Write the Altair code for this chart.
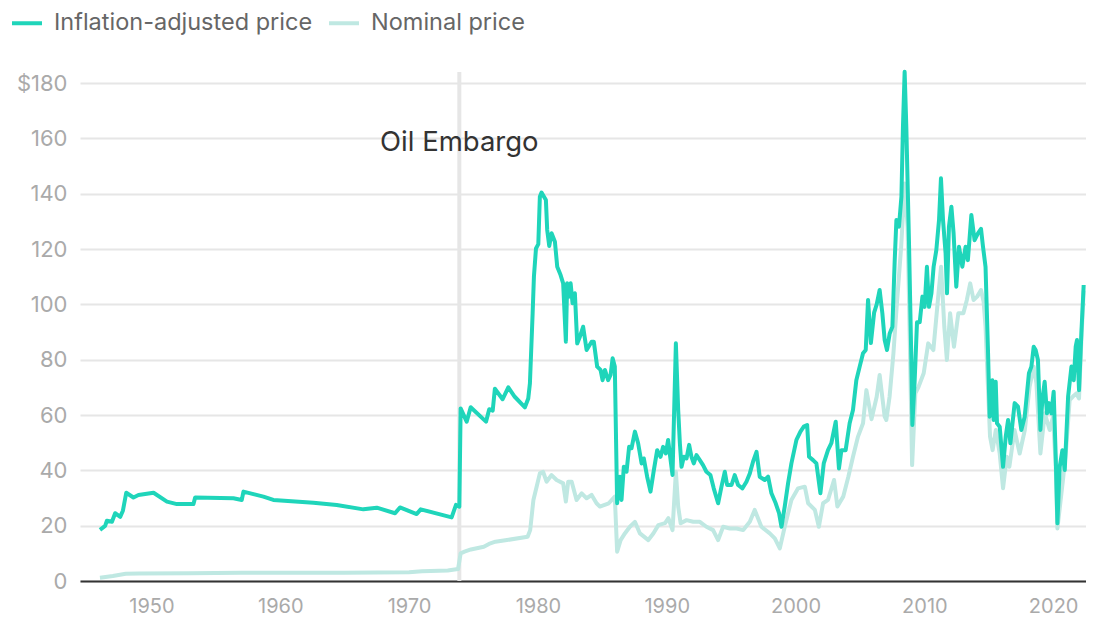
import altair as alt
import pandas as pd

# ---- data ----
adj_year = [1946.0, 1946.4, 1946.54, 1946.93, 1947.18, 1947.57, 1947.78, 1948.04, 1948.6, 1948.99,
            1950.16, 1951.2, 1951.97, 1953.26, 1953.39, 1956.36, 1957.01, 1957.14, 1958.69, 1959.46,
            1962.57, 1964.38, 1966.45, 1967.49, 1968.91, 1969.29, 1970.59, 1970.9, 1973.3, 1973.64,
            1973.9, 1974.0, 1974.47, 1974.78, 1975.97, 1976.22, 1976.49, 1976.66, 1977.26, 1977.7,
            1978.2, 1978.99, 1979.25, 1979.38, 1979.59, 1979.69, 1979.85, 1980.03, 1980.15, 1980.28,
            1980.62, 1980.72, 1980.88, 1981.06, 1981.32, 1981.5, 1981.76, 1981.96, 1982.17, 1982.27,
            1982.43, 1982.54, 1982.69, 1982.87, 1983.05, 1983.26, 1983.51, 1983.78, 1984.17, 1984.34,
            1984.6, 1984.86, 1985.02, 1985.2, 1985.45, 1985.64, 1985.8, 1985.97, 1986.15, 1986.36,
            1986.49, 1986.67, 1986.88, 1987.08, 1987.27, 1987.53, 1987.78, 1988.05, 1988.22, 1988.48,
            1988.74, 1989.0, 1989.26, 1989.52, 1989.72, 1989.93, 1990.11, 1990.3, 1990.45, 1990.71,
            1990.89, 1991.02, 1991.15, 1991.33, 1991.54, 1991.74, 1991.92, 1992.1, 1992.31, 1992.57,
            1992.82, 1993.08, 1993.39, 1993.65, 1993.99, 1994.25, 1994.51, 1994.69, 1995.03, 1995.28,
            1995.54, 1995.88, 1996.19, 1996.45, 1996.7, 1996.97, 1997.22, 1997.61, 1997.87, 1998.13,
            1998.46, 1998.72, 1998.91, 1999.16, 1999.42, 1999.68, 2000.07, 2000.38, 2000.64, 2000.9,
            2001.05, 2001.36, 2001.62, 2001.93, 2002.19, 2002.52, 2002.78, 2003.12, 2003.37, 2003.56,
            2003.89, 2004.2, 2004.46, 2004.72, 2004.98, 2005.24, 2005.45, 2005.63, 2005.85, 2006.1,
            2006.3, 2006.53, 2006.74, 2006.92, 2007.1, 2007.31, 2007.52, 2007.7, 2007.83, 2008.03,
            2008.22, 2008.34, 2008.47, 2008.6, 2008.81, 2008.99, 2009.07, 2009.25, 2009.43, 2009.64,
            2009.85, 2010.02, 2010.2, 2010.36, 2010.55, 2010.72, 2010.93, 2011.14, 2011.29, 2011.45,
            2011.65, 2011.76, 2011.91, 2012.1, 2012.27, 2012.48, 2012.69, 2012.95, 2013.2, 2013.38,
            2013.65, 2013.9, 2014.16, 2014.4, 2014.55, 2014.75, 2014.94, 2015.07, 2015.28, 2015.38,
            2015.54, 2015.64, 2015.85, 2016.11, 2016.32, 2016.5, 2016.68, 2017.01, 2017.27, 2017.53,
            2017.79, 2018.12, 2018.31, 2018.49, 2018.64, 2018.82, 2019.01, 2019.16, 2019.34, 2019.52,
            2019.68, 2019.86, 2020.04, 2020.2, 2020.33, 2020.51, 2020.72, 2020.9, 2021.16, 2021.42,
            2021.6, 2021.75, 2021.85, 2022.01, 2022.19, 2022.37]
adj_price = [18.5, 19.9, 21.8, 21.4, 24.5, 23.2, 25.4, 31.9, 30.2, 31.1,
             31.9, 28.7, 27.8, 27.8, 30.2, 29.9, 29.3, 32.3, 30.5, 29.3,
             28.3, 27.5, 25.9, 26.5, 24.5, 26.6, 24.2, 25.9, 23.0, 27.5,
             26.9, 62.4, 57.6, 62.8, 57.6, 62.1, 61.6, 69.5, 65.7, 70.0,
             66.6, 62.8, 66.0, 71.5, 96.8, 110.0, 120.2, 121.8, 138.9, 140.4,
             137.7, 126.9, 121.1, 125.7, 122.6, 113.6, 110.6, 107.6, 86.5, 107.6,
             102.8, 107.6, 100.4, 104.0, 85.9, 88.3, 91.9, 83.5, 86.5, 86.5,
             77.5, 76.3, 72.6, 76.3, 72.6, 74.5, 80.5, 77.5, 28.1, 37.7,
             29.3, 41.3, 39.5, 48.5, 48.0, 54.0, 49.8, 42.5, 44.3, 37.7,
             32.3, 40.1, 47.3, 44.9, 48.5, 46.1, 51.0, 43.7, 38.3, 85.9,
             61.8, 49.8, 41.3, 44.9, 44.3, 49.2, 44.9, 42.5, 45.5, 43.7,
             41.9, 39.5, 38.3, 33.5, 28.1, 34.1, 39.5, 34.7, 34.7, 38.3,
             34.7, 33.5, 35.9, 38.9, 43.1, 46.7, 37.7, 36.5, 37.7, 31.7,
             28.1, 24.5, 19.6, 26.9, 35.3, 42.5, 51.0, 54.0, 55.8, 56.4,
             44.9, 43.7, 42.5, 31.7, 42.5, 47.3, 49.8, 57.6, 40.7, 47.3,
             47.3, 57.0, 61.8, 72.6, 77.5, 82.3, 83.5, 101.6, 86.0, 97.0,
             100.0, 105.2, 96.8, 87.1, 83.5, 89.5, 91.9, 116.0, 130.5, 128.1,
             138.9, 164.2, 184.1, 164.2, 122.0, 79.9, 56.4, 72.6, 93.5, 93.5,
             102.8, 99.1, 113.6, 99.1, 104.0, 113.6, 119.6, 130.5, 145.6, 130.5,
             118.4, 104.0, 128.1, 135.3, 125.7, 106.4, 120.8, 113.6, 120.8, 116.0,
             132.3, 123.2, 125.7, 127.3, 121.0, 113.6, 83.5, 59.4, 72.6, 58.2,
             72.0, 57.0, 55.8, 41.3, 52.2, 58.2, 49.8, 64.3, 63.0, 54.6,
             59.4, 75.1, 77.5, 84.7, 83.5, 79.9, 54.6, 65.4, 72.0, 60.6,
             64.3, 60.6, 68.4, 44.9, 20.9, 41.3, 47.3, 40.1, 66.6, 77.5,
             72.6, 84.7, 87.1, 69.0, 89.5, 107.0]

nom_year = [1946.0, 1947.0, 1948.0, 1949.0, 1953.0, 1957.0, 1965.0, 1970.0, 1971.0, 1973.0,
            1973.8, 1974.0, 1974.3, 1974.8, 1975.8, 1976.2, 1976.7, 1977.6, 1979.2, 1979.4,
            1979.65, 1979.9, 1980.15, 1980.4, 1980.67, 1981.06, 1981.45, 1981.96, 1982.17, 1982.35,
            1982.62, 1983.0, 1983.4, 1983.78, 1984.17, 1984.55, 1984.81, 1985.5, 1985.97, 1986.15,
            1986.42, 1986.75, 1987.14, 1987.53, 1987.92, 1988.57, 1988.96, 1989.35, 1989.87, 1990.13,
            1990.45, 1990.71, 1990.89, 1991.08, 1991.54, 1992.06, 1992.57, 1993.08, 1993.6, 1993.99,
            1994.38, 1994.9, 1995.42, 1995.94, 1996.45, 1996.83, 1997.35, 1998.0, 1998.39, 1998.78,
            1999.16, 1999.68, 2000.2, 2000.72, 2000.98, 2001.5, 2001.81, 2002.14, 2002.52, 2002.99,
            2003.25, 2003.7, 2004.1, 2004.46, 2004.85, 2005.24, 2005.5, 2005.9, 2006.3, 2006.53,
            2006.92, 2007.05, 2007.3, 2007.6, 2007.85, 2008.2, 2008.47, 2008.7, 2008.85, 2009.05,
            2009.3, 2009.55, 2009.95, 2010.3, 2010.7, 2011.1, 2011.3, 2011.55, 2011.75, 2012.0,
            2012.3, 2012.64, 2013.03, 2013.3, 2013.56, 2013.82, 2014.1, 2014.4, 2014.6, 2014.75,
            2014.94, 2015.1, 2015.3, 2015.55, 2015.85, 2016.11, 2016.4, 2016.6, 2017.0, 2017.4,
            2017.8, 2018.17, 2018.49, 2018.7, 2019.01, 2019.35, 2019.73, 2019.99, 2020.2, 2020.33,
            2020.76, 2021.0, 2021.28, 2021.6, 2021.8, 2022.01, 2022.19, 2022.37]
nom_price = [1.2, 1.8, 2.6, 2.7, 2.8, 3.0, 3.0, 3.2, 3.5, 3.8,
             4.3, 10.0, 10.6, 11.4, 12.4, 13.4, 14.2, 14.8, 16.0, 18.4,
             29.3, 34.1, 38.9, 39.5, 35.9, 38.3, 36.5, 35.3, 28.7, 35.9,
             35.9, 29.3, 31.7, 29.9, 31.1, 28.1, 26.9, 28.1, 30.5, 10.6,
             14.8, 17.2, 19.6, 21.4, 17.2, 14.8, 17.2, 20.2, 20.9, 22.7,
             18.4, 39.5, 26.9, 20.9, 22.0, 21.4, 21.4, 19.6, 18.4, 14.8,
             19.6, 19.0, 19.0, 18.4, 21.4, 25.7, 19.6, 17.2, 15.4, 11.8,
             19.6, 29.3, 33.5, 34.1, 28.1, 25.7, 19.6, 28.1, 29.3, 36.5,
             26.9, 30.5, 37.7, 44.9, 52.2, 57.0, 69.0, 58.5, 66.6, 74.5,
             59.4, 58.2, 66.6, 82.3, 99.1, 120.8, 143.7, 128.0, 91.9, 41.9,
             67.8, 70.2, 75.1, 85.9, 83.5, 104.0, 113.6, 91.9, 79.9, 96.8,
             84.7, 96.8, 96.8, 101.6, 107.6, 101.6, 102.8, 105.2, 101.0, 92.0,
             70.0, 52.2, 47.3, 54.6, 46.1, 33.5, 44.9, 41.3, 54.6, 46.1,
             54.6, 70.2, 77.5, 71.5, 46.1, 60.6, 54.6, 59.4, 41.3, 19.0,
             36.5, 47.3, 65.4, 67.0, 67.8, 66.0, 87.0, 105.0]

series_names = ["Inflation-adjusted price", "Nominal price"]
series_colors = ["#1fd5ba", "#bfe8e2"]

embargo_year = [1973.9]
embargo_text = ["Oil Embargo"]
embargo_text_price = [158.5]

x_ticks = [1950, 1960, 1970, 1980, 1990, 2000, 2010, 2020]
y_ticks = [0, 20, 40, 60, 80, 100, 120, 140, 160, 180]
x_domain = [1944.45, 2022.55]
y_domain = [0, 184]

# ---- tables ----
adj_df = pd.DataFrame({"year": adj_year, "price": adj_price, "series": series_names[0]})
nom_df = pd.DataFrame({"year": nom_year, "price": nom_price, "series": series_names[1]})
emb_df = pd.DataFrame({"year": embargo_year, "price": embargo_text_price, "label": embargo_text})

FONT = "Inter"

x_enc = alt.X(
    "year:Q",
    scale=alt.Scale(domain=x_domain, nice=False, zero=False),
    axis=alt.Axis(values=x_ticks, format="d", title=None, grid=False, ticks=False,
                  domainColor="#333333", domainWidth=2, labelColor="#aaaaaa",
                  labelFontSize=20, labelFont=FONT, labelPadding=15),
)
y_enc = alt.Y(
    "price:Q",
    scale=alt.Scale(domain=y_domain, nice=False),
    axis=alt.Axis(values=y_ticks, title=None, domain=False, ticks=False,
                  gridColor="#e6e6e6", gridWidth=2, labelColor="#aaaaaa",
                  labelFontSize=22, labelFont=FONT, labelPadding=13,
                  labelExpr="datum.value == 180 ? '$180' : datum.label"),
)
color_enc = alt.Color(
    "series:N",
    scale=alt.Scale(domain=series_names, range=series_colors),
    legend=alt.Legend(title=None, orient="none", legendX=-70, legendY=-66,
                      direction="horizontal", symbolType="stroke", symbolSize=900,
                      symbolStrokeWidth=4, labelFontSize=23.5, labelFont=FONT,
                      labelColor="#666666", labelOffset=10, columnPadding=8,
                      labelLimit=0),
)

rule = alt.Chart(emb_df).mark_rule(color="#e6e6e6", strokeWidth=4).encode(x=x_enc)

nom_line = alt.Chart(nom_df).mark_line(strokeWidth=4, strokeJoin="round").encode(
    x=x_enc, y=y_enc, color=color_enc
)
adj_line = alt.Chart(adj_df).mark_line(strokeWidth=4, strokeJoin="round").encode(
    x=x_enc, y=y_enc, color=color_enc
)
text = alt.Chart(emb_df).mark_text(
    fontSize=27.5, font=FONT, color="#333333", align="center", baseline="middle"
).encode(x=x_enc, y=y_enc, text="label:N")

chart = alt.layer(rule, nom_line, adj_line, text).properties(
    width=1006,
    height=509,
    padding={"left": 72, "top": 64, "right": 0, "bottom": 38},
    autosize=alt.AutoSizeParams(type="none"),
    background="white",
).configure_view(stroke=None)

chart.save("out.html", embed_options={"renderer": "svg", "actions": False})
